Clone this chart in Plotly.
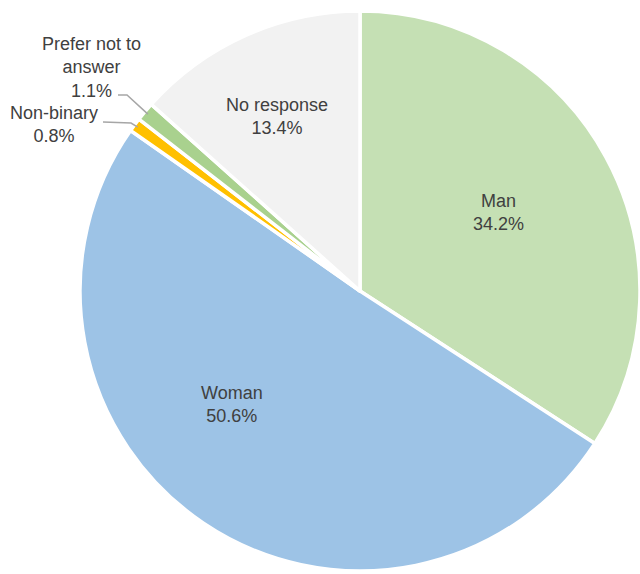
import math
import plotly.graph_objects as go

# ---- data ----
categories = ["Man", "Woman", "Non-binary", "Prefer not to answer", "No response"]
shares = [34.2, 50.6, 0.8, 1.1, 13.4]
colors = ["#c5e0b4", "#9dc3e6", "#ffc000", "#a9d18e", "#f2f2f2"]

W, H = 640, 574
FONT = "Liberation Sans, Arial, sans-serif"
TXT = "#404040"
FS = 18

# pie placement (pixels)
dom_x = (80, 640)
dom_y_px = (8, 574)  # top, bottom in screen px
cx = (dom_x[0] + dom_x[1]) / 2
cy = (dom_y_px[0] + dom_y_px[1]) / 2
R = 279


def px(x):
    return x / W


def py(y):
    return 1 - y / H


total = sum(shares)
starts = []
acc = 0
for v in shares:
    starts.append(acc)
    acc += v


def edge_point(i, frac=1.0):
    mid = (starts[i] + shares[i] / 2) / total * 360
    a = math.radians(mid)
    return cx + R * frac * math.sin(a), cy - R * frac * math.cos(a)


fig = go.Figure(
    go.Pie(
        labels=categories,
        values=shares,
        sort=False,
        direction="clockwise",
        rotation=0,
        marker=dict(colors=colors, line=dict(color="white", width=3.5)),
        textinfo="none",
        hoverinfo="label+value",
        showlegend=False,
        domain=dict(x=[px(dom_x[0]), px(dom_x[1])], y=[py(dom_y_px[1]), py(dom_y_px[0])]),
    )
)

# label placement (pixel centres) and leader lines for small slices
label_style = {
    0: dict(text="Man", pos=(498, 212)),
    1: dict(text="Woman", pos=(232, 404)),
    4: dict(text="No response", pos=(277, 116)),
    3: dict(text="Prefer not to<br>answer", pos=(91, 67), line_start=(118, 95), elbow=(127, 95)),
    2: dict(text="Non-binary", pos=(54, 125), line_start=(103, 122), elbow=(131, 123)),
}
annotations = []
shapes = []
for i, o in label_style.items():
    annotations.append(
        dict(
            x=px(o["pos"][0]), y=py(o["pos"][1]), xref="paper", yref="paper",
            text=f"{o['text']}<br>{shares[i]:.1f}%",
            showarrow=False, align="center", xanchor="center", yanchor="middle",
            font=dict(family=FONT, size=FS, color=TXT),
        )
    )
    if "line_start" in o:
        ex, ey = edge_point(i, 0.99)
        path = "M {} {} L {} {} L {} {}".format(
            px(o["line_start"][0]), py(o["line_start"][1]),
            px(o["elbow"][0]), py(o["elbow"][1]),
            px(ex), py(ey),
        )
        shapes.append(dict(type="path", xref="paper", yref="paper", path=path,
                           line=dict(color="#a6a6a6", width=1.5)))

fig.update_layout(
    width=W, height=H,
    margin=dict(l=0, r=0, t=0, b=0),
    paper_bgcolor="white",
    annotations=annotations,
    shapes=shapes,
)

fig.write_html("out.html")
